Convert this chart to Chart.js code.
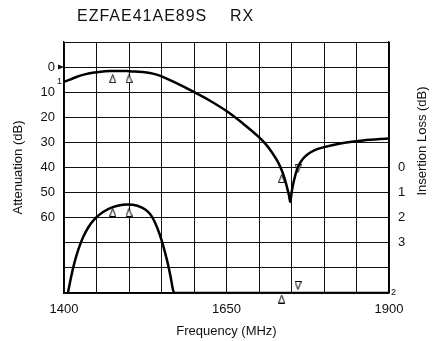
<!DOCTYPE html>
<html lang="en">
<head>
  <meta charset="UTF-8">
  <title>EZFAE41AE89S RX</title>
  <script src="https://cdn.jsdelivr.net/npm/chart.js"></script>
  <style>
    body { margin: 0; background: #fff; }
  </style>
</head>
<body>
  <canvas id="filterChart" width="441" height="341"></canvas>
  <script>
    // attenuation curve (left axis, dB)
    const attFreq = [1400, 1409, 1420, 1432, 1444, 1457, 1471, 1483, 1497, 1509, 1521, 1532, 1541, 1549,
      1558, 1573, 1599, 1624, 1650, 1675, 1700, 1710, 1720, 1728, 1734, 1739, 1743, 1746, 1748,
      1750.5, 1754, 1759, 1763, 1768, 1775, 1785, 1800, 1825, 1860, 1900];
    const attLoss = [5.86, 4.98, 3.86, 2.91, 2.27, 1.83, 1.59, 1.51, 1.59, 1.71, 1.99, 2.39, 2.91, 3.59,
      4.6, 6.4, 9.8, 13.3, 17.5, 22.4, 27.9, 30.6, 34.0, 37.3, 40.5, 44.0, 47.8, 51.0, 53.7,
      49.4, 45.0, 40.4, 38.3, 36.4, 34.7, 33.2, 31.9, 30.4, 29.2, 28.4];

    // insertion loss curve (right axis, dB)
    const ilFreq = [1406, 1411, 1416, 1422, 1429, 1437, 1448, 1460, 1475, 1490, 1498, 1506, 1520, 1529,
      1535, 1541, 1547, 1553, 1559, 1564, 1568, 1571, 1900];
    const ilLoss = [5.0, 4.35, 3.8, 3.27, 2.8, 2.4, 2.03, 1.77, 1.58, 1.48, 1.47, 1.48, 1.6, 1.76,
      1.95, 2.25, 2.65, 3.15, 3.75, 4.35, 4.9, 5.0, 5.0];

    // band markers
    const attUpFreq = [1475, 1500, 1735];
    const attUpLevel = [4.6, 4.6, 44.4];
    const attDownFreq = [1760];
    const attDownLevel = [40.3];
    const ilUpFreq = [1475, 1500, 1735];
    const ilUpLevel = [1.79, 1.79, 5.24];
    const ilDownFreq = [1760];
    const ilDownLevel = [4.7];

    const attLabels = [0, 10, 20, 30, 40, 50, 60];
    const ilLabels = [0, 1, 2, 3];
    const freqLabels = [1400, 1650, 1900];

    const FONT = '"Liberation Sans", Arial, sans-serif';

    function triangle(down) {
      const c = document.createElement('canvas');
      c.width = 7; c.height = 9;
      const g = c.getContext('2d');
      g.beginPath();
      if (down) {
        g.moveTo(0.5, 0.5); g.lineTo(6.5, 0.5); g.lineTo(3.5, 8.5);
      } else {
        g.moveTo(3.5, 0.5); g.lineTo(6.5, 8.5); g.lineTo(0.5, 8.5);
      }
      g.closePath();
      g.fillStyle = '#fff';
      g.fill();
      g.strokeStyle = '#000';
      g.lineWidth = 1;
      g.stroke();
      return c;
    }
    const upTri = triangle(false);
    const downTri = triangle(true);

    const pts = (xs, ys) => xs.map((x, i) => ({ x: x, y: ys[i] }));

    function curve(xs, ys, axis) {
      return {
        data: pts(xs, ys),
        yAxisID: axis,
        borderColor: '#000',
        borderWidth: 2.5,
        pointRadius: 0,
        fill: false,
        cubicInterpolationMode: 'monotone'
      };
    }

    // radius only widens the in-area check, the image keeps its own size
    function marks(xs, ys, axis, img) {
      return {
        data: pts(xs, ys),
        yAxisID: axis,
        showLine: false,
        pointStyle: img,
        pointRadius: 10,
        clip: false
      };
    }

    // title, right axis caption and the small curve tags
    const decor = {
      id: 'decor',
      afterDraw(chart) {
        const ctx = chart.ctx;
        const area = chart.chartArea;
        const att = chart.scales.att;
        const il = chart.scales.il;
        ctx.save();
        ctx.fillStyle = '#111';

        ctx.font = '16px ' + FONT;
        ctx.letterSpacing = '1px';
        ctx.textAlign = 'left';
        ctx.textBaseline = 'alphabetic';
        ctx.fillText('EZFAE41AE89S', 77, 21);
        ctx.fillText('RX', 230, 21);
        ctx.letterSpacing = '0px';

        ctx.save();
        ctx.translate(422, 141);
        ctx.rotate(-Math.PI / 2);
        ctx.font = '13px ' + FONT;
        ctx.textAlign = 'center';
        ctx.textBaseline = 'middle';
        ctx.fillText('Insertion Loss (dB)', 0, 0);
        ctx.restore();

        // reference arrow at 0 dB
        const y0 = att.getPixelForValue(0);
        ctx.beginPath();
        ctx.moveTo(area.left - 6, y0 - 2.5);
        ctx.lineTo(area.left, y0);
        ctx.lineTo(area.left - 6, y0 + 2.5);
        ctx.closePath();
        ctx.fill();

        ctx.font = '9px ' + FONT;
        ctx.textBaseline = 'middle';
        ctx.textAlign = 'right';
        ctx.fillText('1', area.left - 2, att.getPixelForValue(attLoss[0]));
        ctx.textAlign = 'left';
        ctx.fillText('2', area.right + 2, il.getPixelForValue(ilLoss[ilLoss.length - 1]));
        ctx.restore();
      }
    };

    const tickFont = { family: FONT, size: 13 };

    new Chart(document.getElementById('filterChart'), {
      type: 'line',
      data: {
        datasets: [
          curve(attFreq, attLoss, 'att'),
          curve(ilFreq, ilLoss, 'il'),
          marks(attUpFreq, attUpLevel, 'att', upTri),
          marks(attDownFreq, attDownLevel, 'att', downTri),
          marks(ilUpFreq, ilUpLevel, 'il', upTri),
          marks(ilDownFreq, ilDownLevel, 'il', downTri)
        ]
      },
      options: {
        responsive: false,
        animation: false,
        layout: { padding: { top: 42, left: 0, right: 0, bottom: 0 } },
        plugins: {
          legend: { display: false },
          tooltip: { enabled: false }
        },
        scales: {
          x: {
            type: 'linear',
            min: 1400,
            max: 1900,
            afterFit(s) { s.height = 48; },
            grid: { color: '#111', lineWidth: 1, drawTicks: false },
            border: { color: '#000', width: 1.3 },
            ticks: {
              stepSize: 50,
              autoSkip: false,
              maxRotation: 0,
              padding: 9,
              color: '#111',
              font: tickFont,
              callback: v => freqLabels.includes(v) ? String(v) : ''
            },
            title: {
              display: true,
              text: 'Frequency (MHz)',
              color: '#111',
              font: tickFont,
              padding: { top: 0, bottom: 2 }
            }
          },
          att: {
            type: 'linear',
            position: 'left',
            min: -10,
            max: 90,
            reverse: true,
            afterFit(s) { s.width = 64; },
            grid: { color: '#111', lineWidth: 1, drawTicks: false },
            border: { color: '#000', width: 1.3 },
            ticks: {
              stepSize: 10,
              padding: 9,
              color: '#111',
              font: tickFont,
              callback: v => attLabels.includes(v) ? String(v) : ''
            },
            title: {
              display: true,
              text: 'Attenuation (dB)',
              color: '#111',
              font: tickFont,
              padding: { top: 11, bottom: 0 }
            }
          },
          il: {
            type: 'linear',
            position: 'right',
            min: -5,
            max: 5,
            reverse: true,
            afterFit(s) { s.width = 52; },
            grid: { display: false, drawTicks: false },
            border: { color: '#000', width: 1.3 },
            ticks: {
              stepSize: 1,
              padding: 9,
              color: '#111',
              font: tickFont,
              callback: v => ilLabels.includes(v) ? String(v) : ''
            }
          }
        }
      },
      plugins: [decor]
    });
  </script>
</body>
</html>
